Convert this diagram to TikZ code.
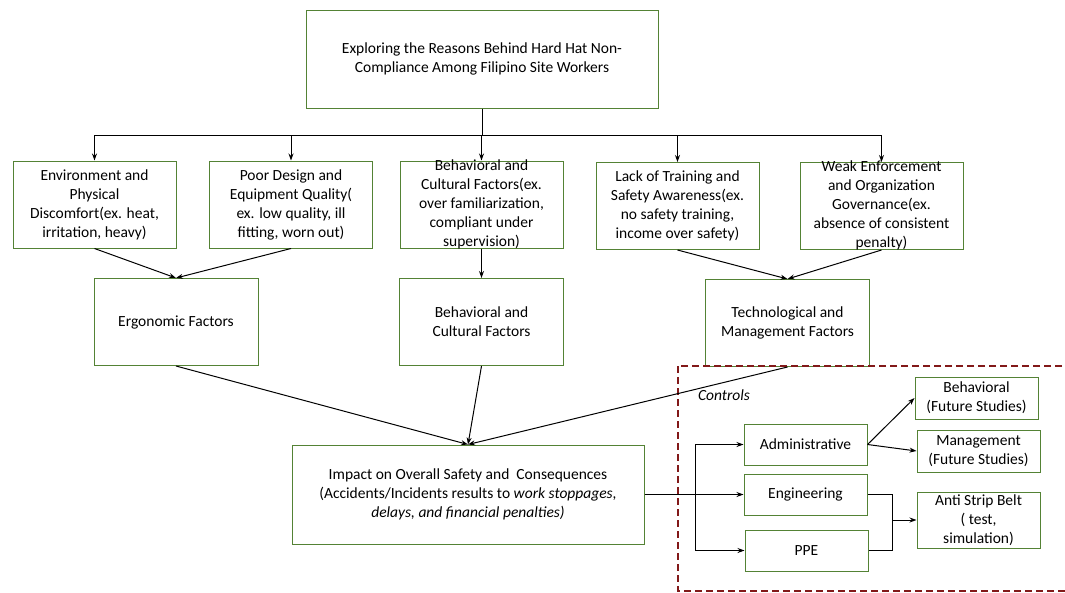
\documentclass[tikz,border=0pt]{standalone}
\usepackage{fontspec}
\setmainfont{Carlito}
\usepackage{xcolor}
\usepackage{tikz}
\usetikzlibrary{arrows.meta,positioning,calc}

\definecolor{boxgreen}{RGB}{84,130,53}
\definecolor{ctrlred}{RGB}{130,25,25}
% text that may spill over its box, kept centred
\newcommand{\ovl}[1]{\vbox to 0pt{\vss\hbox{\begin{tabular}{@{}c@{}}#1\end{tabular}}\vss}}

\begin{document}
\begin{tikzpicture}[
        x=1pt, y=-1pt,
        font=\fontsize{15.5}{19}\selectfont,
        >={Stealth[length=7pt,width=5pt]},
        base_box/.style={draw=boxgreen, line width=1pt, fill=white, inner sep=0pt, align=center},
        wide_box/.style={base_box, minimum width=352pt, minimum height=98pt},
        cause_box/.style={base_box, minimum width=163pt, minimum height=87pt},
        group_box/.style={base_box, minimum width=164pt, minimum height=87pt},
        ctrl_box/.style={base_box, minimum width=123pt, minimum height=41pt},
        out_box/.style={base_box, minimum width=123pt, minimum height=42pt},
        arrow/.style={->, line width=1pt, draw=black},
        link/.style={line width=1pt, draw=black},
        ctrl_bg/.style={draw=ctrlred, line width=1.6pt, dash pattern=on 7pt off 4pt}
    ]

    \path[use as bounding box, fill=white] (0,0) rectangle (1065,592);

    % ==========================================
    % 1. Title and the five causes
    % ==========================================
    \node[wide_box] (title) at (482,59) {Exploring the Reasons Behind Hard Hat Non-\\Compliance Among Filipino Site Workers};

    \node[cause_box] (env) at (94.5,204.5) {Environment and\\Physical\\Discomfort(ex. heat,\\irritation, heavy)};
    \node[cause_box] (poor) at (291,204.5) {Poor Design and\\Equipment Quality(\\ex. low quality, ill\\fitting, worn out)};
    \node[cause_box] (behav) at (481.5,204.5) {\ovl{Behavioral and\\Cultural Factors(ex.\\over familiarization,\\compliant under\\supervision)}};
    \node[cause_box] (lack) at (677.5,206) {Lack of Training and\\Safety Awareness(ex.\\no safety training,\\income over safety)};
    \node[cause_box] (weak) at (881.5,206) {\ovl{Weak Enforcement\\and Organization\\Governance(ex.\\absence of consistent\\penalty)}};

    % --- grouped factors ---
    \node[group_box] (ergo) at (176,322) {Ergonomic Factors};
    \node[group_box] (behcult) at (481.5,322) {Behavioral and\\Cultural Factors};
    \node[group_box] (tech) at (787.5,323) {Technological and\\Management Factors};

    % --- consequences ---
    \node[wide_box, minimum height=99pt] (impact) at (468,494.5) {Impact on Overall Safety and\ \ Consequences\\(Accidents/Incidents results to \textit{work stoppages,}\\\textit{delays, and financial penalties)}};

    % ==========================================
    % 2. Controls
    % ==========================================
    \draw[ctrl_bg] (678,366) rectangle (1085,591);
    \node[font=\fontsize{15.5}{19}\selectfont\itshape] (controls) at (724,395) {Controls};

    \node[ctrl_box] (admin) at (805.5,444.5) {Administrative};
    \node[ctrl_box] (eng) at (805.5,494.5) {Engineering};
    \node[ctrl_box] (ppe) at (806.5,550.5) {PPE};

    \node[out_box] (behfut) at (976.5,398) {Behavioral\\(Future Studies)};
    \node[out_box] (mgmt) at (978.5,451) {Management\\(Future Studies)};
    \node[out_box, minimum height=56pt] (belt) at (978.5,520) {Anti Strip Belt\\( test,\\simulation)};

    % ==========================================
    % 3. Connectors
    % ==========================================
    \coordinate (split) at (482,135);
    \draw[link] (title.south) -- (split);
    \foreach \n in {env,poor,behav,lack,weak}
        \draw[arrow] (split) -| (\n.north);

    \draw[arrow] (env.south) -- (ergo.north);
    \draw[arrow] (poor.south) -- (ergo.north);
    \draw[arrow] (behav.south) -- (behcult.north);
    \draw[arrow] (lack.south) -- (tech.north);
    \draw[arrow] (weak.south) -- (tech.north);

    \draw[arrow] (ergo.south) -- (impact.north);
    \draw[arrow] (behcult.south) -- (impact.north);
    \draw[arrow] (tech.south) -- (impact.north);

    % --- fork into the three controls ---
    \coordinate (fork) at ($(impact.east)+(51,0)$);
    \draw[link] (impact.east) -- (fork);
    \draw[arrow] (fork) |- (admin.west);
    \draw[arrow] (fork) -- (eng.west);
    \draw[arrow] (fork) |- (ppe.west);

    \draw[arrow] (admin.east) -- (behfut.west);
    \draw[arrow] (admin.east) -- (mgmt.west);

    \coordinate (merge) at (892,520);
    \draw[link] (eng.east) -| (merge);
    \draw[link] (ppe.east) -| (merge);
    \draw[arrow] (merge) -- (belt.west);

\end{tikzpicture}
\end{document}
